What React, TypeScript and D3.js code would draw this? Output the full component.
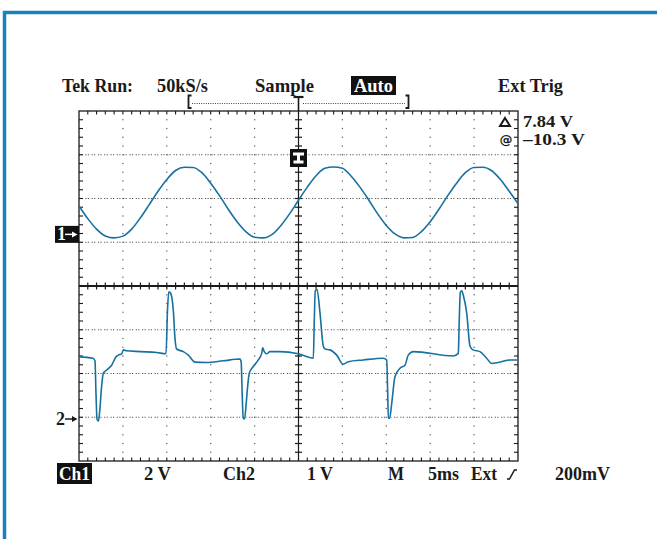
import React from 'react';
import * as d3 from 'd3';

// ---------- data ----------
const timePerDiv = 5; // ms / div
const ch1VoltsPerDiv = 2;
const ch2VoltsPerDiv = 1;
const ch1GroundDiv = 1.18;
const ch2GroundDiv = -3.04;

const ch1Time = d3.range(0, 51, 1);
const ch1Volts = [
  1.3, 0.72, 0.24, -0.07, -0.16, -0.08, 0.24, 0.76, 1.36, 1.97,
  2.51, 2.92, 3.07, 3.06, 2.82, 2.34, 1.77, 1.15, 0.58, 0.13,
  -0.13, -0.16, 0.0, 0.41, 0.95, 1.56, 2.16, 2.68, 3.02, 3.08,
  3.02, 2.66, 2.16, 1.57, 0.95, 0.41, 0.02, -0.16, -0.14, 0.13,
  0.58, 1.15, 1.77, 2.34, 2.82, 3.06, 3.07, 2.91, 2.51, 1.97, 1.4,
];

const ch2Time = [
  0, 1.59, 1.82, 1.94, 2.05, 2.22, 2.39, 2.56, 2.77, 3.15, 3.72, 4.21, 4.48, 4.86, 5.05, 5.35, 6.95, 8.85,
  9.91, 10.08, 10.23, 10.42, 10.74, 10.93, 11.12, 11.88, 12.45, 13.21, 14.54, 16.44, 18.34,
  18.47, 18.59, 18.7, 18.85, 19.02, 19.19, 19.4, 19.85, 20.42, 20.81, 20.92, 21.07, 21.38, 21.75, 22.89, 24.98,
  26.69, 26.8, 26.91, 27.11, 27.45, 27.82, 28.02, 28.59, 29.35, 30.1, 30.67, 32.38, 34.66,
  35.05, 35.15, 35.24, 35.38, 35.62, 35.99, 36.56, 37.13, 37.5, 38.08, 42.63,
  43.2, 43.31, 43.43, 43.59, 43.79, 44.16, 44.53, 44.87, 45.67, 46.43, 47.0, 47.76, 49.09, 50,
];
const ch2Volts = [
  1.42, 1.39, 1.33, 0.55, 0.0, -0.05, 0.25, 0.71, 1.05, 1.12, 1.23, 1.42, 1.46, 1.49, 1.58, 1.56, 1.54, 1.52,
  1.49, 2.49, 2.91, 2.88, 2.49, 1.85, 1.6, 1.54, 1.46, 1.3, 1.29, 1.33, 1.37,
  1.3, 0.55, 0.02, 0.0, 0.3, 0.71, 1.05, 1.2, 1.35, 1.5, 1.63, 1.55, 1.49, 1.54, 1.54, 1.49,
  1.39, 2.26, 2.93, 2.96, 2.42, 1.67, 1.6, 1.58, 1.46, 1.25, 1.31, 1.35, 1.39,
  1.35, 0.66, 0.02, 0.02, 0.36, 0.97, 1.16, 1.23, 1.46, 1.54, 1.44,
  1.5, 2.26, 2.9, 2.93, 2.81, 2.42, 1.67, 1.58, 1.54, 1.39, 1.27, 1.29, 1.35, 1.35,
];

const headerLabels = ['Tek Run:', '50kS/s', 'Sample', 'Auto', 'Ext Trig'];
const cursorLabels = ['7.84 V', '\u201310.3 V'];
const footerLabels = ['Ch1', '2 V', 'Ch2', '1 V', 'M', '5ms', 'Ext', '200mV'];
const channelMarkers = ['1', '2'];

// ---------- layout ----------
const W = 657;
const H = 539;
const X0 = 79, X1 = 518, Y0 = 111, Y1 = 461;
const FONT = '"Liberation Serif", "Times New Roman", serif';
const TRACE = '#17709f';
const FRAME = '#1c80bb';
const INK = '#1a1a1a';

export default function App() {
  const x = d3.scaleLinear().domain([0, 10 * timePerDiv]).range([X0, X1]);
  const yDiv = d3.scaleLinear().domain([-4, 4]).range([Y1, Y0]);
  const xc = x(5 * timePerDiv);
  const yc = yDiv(0);

  const minorT = d3.range(1, 50, 1).map((t) => x(t));
  const minorY = d3.range(-19, 20, 1).map((k) => yDiv(k / 5));
  const majorX = d3.range(1, 10).filter((k) => k !== 5).map((k) => x(k * timePerDiv));
  const majorY = d3.range(-3, 4).filter((k) => k !== 0).map((k) => yDiv(k));

  const line1 = d3
    .line<number>()
    .x((_, i) => x(ch1Time[i]))
    .y((v) => yDiv(ch1GroundDiv + v / ch1VoltsPerDiv))
    .curve(d3.curveMonotoneX);
  const line2 = d3
    .line<number>()
    .x((_, i) => x(ch2Time[i]))
    .y((v) => yDiv(ch2GroundDiv + v / ch2VoltsPerDiv))
    .curve(d3.curveMonotoneX);

  const g1 = yDiv(ch1GroundDiv);
  const g2 = yDiv(ch2GroundDiv);

  const headerPos = [
    { x: 62, w: 71 },
    { x: 157, w: 51 },
    { x: 255, w: 59 },
    { x: 354, w: 39 },
    { x: 498, w: 65 },
  ];
  const footerPos = [
    { x: 59, w: 31 },
    { x: 144, w: 27 },
    { x: 223, w: 32 },
    { x: 307, w: 26 },
    { x: 388, w: 16 },
    { x: 428, w: 31 },
    { x: 471, w: 26 },
    { x: 555, w: 55 },
  ];

  return (
    <svg
      width={W}
      height={H}
      style={{ position: 'absolute', left: 0, top: 0, background: '#fff' }}
      fontFamily={FONT}
      fontWeight="bold"
    >
      <rect x={0} y={0} width={W} height={H} fill="#fff" />
      {/* blue frame */}
      <rect x={4.5} y={12.5} width={W + 20} height={H + 20} fill="none" stroke={FRAME} strokeWidth={3.5} />

      {/* header */}
      <rect x={351} y={76} width={45} height={19} fill="#111" />
      {headerLabels.map((s, i) => (
        <text
          key={s}
          x={headerPos[i].x}
          y={91.5}
          fontSize={19.5}
          textLength={headerPos[i].w}
          lengthAdjust="spacingAndGlyphs"
          fill={i === 3 ? '#fff' : INK}
        >
          {s}
        </text>
      ))}

      {/* record-window bracket */}
      <path d="M191.5,95.5 H188.5 V108 H191.5" fill="none" stroke={INK} strokeWidth={1.8} />
      <path d="M405.5,95.5 H408.5 V108 H405.5" fill="none" stroke={INK} strokeWidth={1.8} />
      <line x1={192} x2={294} y1={103.5} y2={103.5} stroke="#444" strokeDasharray="1,1.3" />
      <line x1={303} x2={405} y1={103.5} y2={103.5} stroke="#444" strokeDasharray="1,1.3" />
      <path d={`M${xc - 5},97 H${xc + 5}`} stroke={INK} strokeWidth={2.2} />
      <line x1={xc} x2={xc} y1={96} y2={Y0} stroke={INK} strokeWidth={1.6} />

      {/* dense dotted horizontal grid lines */}
      {majorY.map((yy) => (
        <line key={`h${yy}`} x1={X0} x2={X1} y1={yy} y2={yy} stroke="#555" strokeWidth={1} strokeDasharray="1.2,1.3,1.2,2.6" />
      ))}
      {/* sparse dotted vertical grid lines */}
      {majorX.map((xx) =>
        minorY.map((yy) => (
          <rect key={`d${xx}-${yy}`} x={xx - 0.6} y={yy - 0.6} width={1.2} height={1.2} fill="#555" />
        ))
      )}

      {/* center lines */}
      <line x1={xc} x2={xc} y1={Y0} y2={Y1} stroke={INK} strokeWidth={1.2} />
      <line x1={X0} x2={X1} y1={yc} y2={yc} stroke={INK} strokeWidth={1.8} />
      {minorY.map((yy) => (
        <line key={`cv${yy}`} x1={xc - 3.5} x2={xc + 3.5} y1={yy} y2={yy} stroke={INK} strokeWidth={1.2} />
      ))}
      {minorT.map((xx) => (
        <line key={`ch${xx}`} x1={xx} x2={xx} y1={yc - 3.5} y2={yc + 3.5} stroke={INK} strokeWidth={1.2} />
      ))}

      {/* border ticks */}
      {minorT.map((xx) => (
        <g key={`bt${xx}`}>
          <line x1={xx} x2={xx} y1={Y0} y2={Y0 + 3.5} stroke={INK} strokeWidth={1.1} />
          <line x1={xx} x2={xx} y1={Y1} y2={Y1 - 3.5} stroke={INK} strokeWidth={1.1} />
        </g>
      ))}
      {minorY.map((yy) => (
        <g key={`bl${yy}`}>
          <line x1={X0} x2={X0 + 4} y1={yy} y2={yy} stroke={INK} strokeWidth={1.1} />
          <line x1={X1} x2={X1 - 4} y1={yy} y2={yy} stroke={INK} strokeWidth={1.1} />
        </g>
      ))}
      <rect x={X0} y={Y0} width={X1 - X0} height={Y1 - Y0} fill="none" stroke={INK} strokeWidth={1.3} />

      {/* traces */}
      <path d={line1(ch1Volts) || ''} fill="none" stroke={TRACE} strokeWidth={1.6} strokeLinejoin="round" />
      <path d={line2(ch2Volts) || ''} fill="none" stroke={TRACE} strokeWidth={1.6} strokeLinejoin="round" />

      {/* trigger level marker */}
      <rect x={xc - 8.5} y={149} width={17} height={18} fill="#111" />
      <path
        d={`M${xc - 5.5},152.5 H${xc + 5.5} V155.5 H${xc + 1.5} V160.5 H${xc + 5} V163.5 H${xc - 5} V160.5 H${xc - 1.5} V155.5 H${xc - 5.5} Z`}
        fill="#fff"
      />

      {/* cursor readouts */}
      <path d="M505,118 L510,126 L500,126 Z" fill="none" stroke={INK} strokeWidth={2} strokeLinejoin="miter" />
      <text x={499.5} y={143.5} fontSize={13} fontFamily='"DejaVu Sans", sans-serif' fill={INK}>@</text>
      {cursorLabels.map((s, i) => (
        <text
          key={s}
          x={523}
          y={127 + i * 17.5}
          fontSize={17}
          textLength={i === 0 ? 50 : 62}
          lengthAdjust="spacingAndGlyphs"
          fill={INK}
        >
          {s}
        </text>
      ))}

      {/* channel ground markers */}
      <rect x={55} y={g1 - 8.5} width={24} height={17} fill="#111" />
      <text x={57} y={g1 + 6} fontSize={18} fill="#fff">{channelMarkers[0]}</text>
      <line x1={65} x2={73} y1={g1} y2={g1} stroke="#fff" strokeWidth={1.5} />
      <path d={`M72,${g1 - 3} L77.5,${g1} L72,${g1 + 3} Z`} fill="#fff" />
      <text x={56} y={g2 + 6} fontSize={18} fill={INK}>{channelMarkers[1]}</text>
      <line x1={65} x2={73} y1={g2} y2={g2} stroke={INK} strokeWidth={1.5} />
      <path d={`M72,${g2 - 3} L77.5,${g2} L72,${g2 + 3} Z`} fill={INK} />

      {/* footer */}
      <rect x={57} y={463} width={35} height={21} fill="#111" />
      {footerLabels.map((s, i) => (
        <text
          key={s}
          x={footerPos[i].x}
          y={480}
          fontSize={18}
          textLength={footerPos[i].w}
          lengthAdjust="spacingAndGlyphs"
          fill={i === 0 ? '#fff' : INK}
        >
          {s}
        </text>
      ))}
      <path d="M507,479 H509.5 L514.5,470 H517" fill="none" stroke={INK} strokeWidth={1.5} />
    </svg>
  );
}
